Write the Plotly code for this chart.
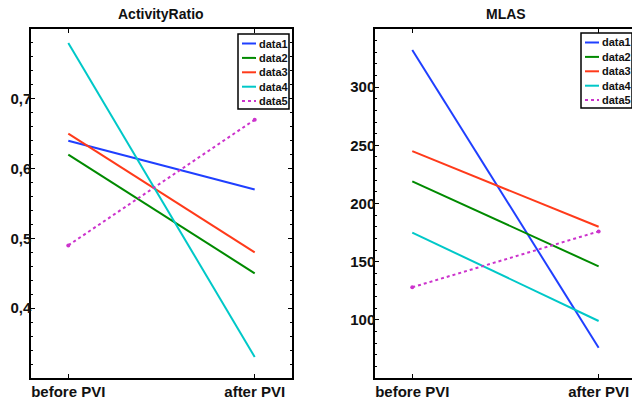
import plotly.graph_objects as go

# ---------------- data ----------------
categories = ["before PVI", "after PVI"]
series_names = ["data1", "data2", "data3", "data4", "data5"]
series_colors = ["#1f3fff", "#008a00", "#ff3a1a", "#00c8c8", "#cc33cc"]

activity_data1 = [0.64, 0.57]
activity_data2 = [0.62, 0.45]
activity_data3 = [0.65, 0.48]
activity_data4 = [0.78, 0.33]
activity_data5 = [0.49, 0.67]

mlas_data1 = [332, 76]
mlas_data2 = [219, 146]
mlas_data3 = [245, 180]
mlas_data4 = [175, 99]
mlas_data5 = [128, 176]

activity_ticks = [0.4, 0.5, 0.6, 0.7]
activity_ticktext = ["0,4", "0,5", "0,6", "0,7"]
mlas_ticks = [100, 150, 200, 250, 300]
mlas_ticktext = ["100", "150", "200", "250", "300"]

titles = ["ActivityRatio", "MLAS"]

# ---------------- figure ----------------
W, H = 632, 400
def px(x):
    return x / W
def py(y):
    return 1 - y / H

FONT = "Liberation Sans, Arial, sans-serif"
fig = go.Figure()

panels = [
    (["x", "y"], [activity_data1, activity_data2, activity_data3, activity_data4, activity_data5]),
    (["x2", "y2"], [mlas_data1, mlas_data2, mlas_data3, mlas_data4, mlas_data5]),
]
for (xa, ya), series in panels:
    for name, color, vals in zip(series_names, series_colors, series):
        dotted = name == "data5"
        fig.add_trace(go.Scatter(
            x=categories, y=vals, name=name, xaxis=xa, yaxis=ya,
            mode="lines+markers" if dotted else "lines",
            line=dict(color=color, width=2, dash="3px,3px" if dotted else "solid"),
            marker=dict(color=color, size=4),
            showlegend=False,
        ))

common_x = dict(type="category", showline=True, linecolor="black", linewidth=1.5,
                ticks="inside", ticklen=4, tickcolor="black", showgrid=False, zeroline=False,
                ticklabelstandoff=-1,
                tickfont=dict(family=FONT, size=15, color="#111", weight="bold"))
common_y = dict(showline=True, linecolor="black", linewidth=1.5, ticks="inside", ticklen=4,
                tickcolor="black", showgrid=False, zeroline=False, ticklabelstandoff=-5,
                tickfont=dict(family=FONT, size=15, color="#111", weight="bold"))

fig.update_layout(
    width=W, height=H, margin=dict(l=0, r=0, t=0, b=0),
    plot_bgcolor="white", paper_bgcolor="white", showlegend=False,
    xaxis=dict(domain=[31 / W, 292 / W], range=[-0.2, 1.2], mirror="ticks", **common_x),
    yaxis=dict(domain=[22 / H, 371 / H], range=[0.3, 0.8], mirror="ticks",
               tickvals=activity_ticks, ticktext=activity_ticktext,
               minor=dict(ticks="inside", dtick=0.02, tick0=0.3, ticklen=2, tickcolor="black"),
               **common_y),
    xaxis2=dict(domain=[375 / W, 1.0], range=[-0.2, 1.179], mirror="ticks", anchor="y2", **common_x),
    yaxis2=dict(domain=[22 / H, 371 / H], range=[50, 350], anchor="x2", mirror=False,
                tickvals=mlas_ticks, ticktext=mlas_ticktext,
                minor=dict(ticks="inside", dtick=10, tick0=50, ticklen=2, tickcolor="black"),
                **common_y),
)

# titles
for t, cx in zip(titles, [161, 505.5]):
    fig.add_annotation(text=t, x=px(cx), y=py(14), xref="paper", yref="paper",
                       showarrow=False, xanchor="center", yanchor="middle",
                       font=dict(family=FONT, size=14, color="#111", weight="bold"))

# custom legends (MATLAB style)
for bx, by in [(238, 34), (581, 33)]:
    fig.add_shape(type="rect", xref="paper", yref="paper",
                  x0=px(bx), x1=px(bx + 51), y0=py(by), y1=py(by + 75),
                  line=dict(color="black", width=1.5), fillcolor="white", layer="above")
    for k, (name, color) in enumerate(zip(series_names, series_colors)):
        yy = by + 9.5 + 14.4 * k
        fig.add_shape(type="line", xref="paper", yref="paper",
                      x0=px(bx + 4), x1=px(bx + 18), y0=py(yy), y1=py(yy),
                      line=dict(color=color, width=2, dash="dot" if name == "data5" else "solid"),
                      layer="above")
        fig.add_annotation(text=name, x=px(bx + 19), y=py(yy), xref="paper", yref="paper",
                           showarrow=False, xanchor="left", yanchor="middle",
                           font=dict(family=FONT, size=11, color="#111", weight="bold"))

fig.write_html("out.html", config={"displayModeBar": False},
               post_script="document.body.style.margin='0';document.body.style.overflow='hidden';")
